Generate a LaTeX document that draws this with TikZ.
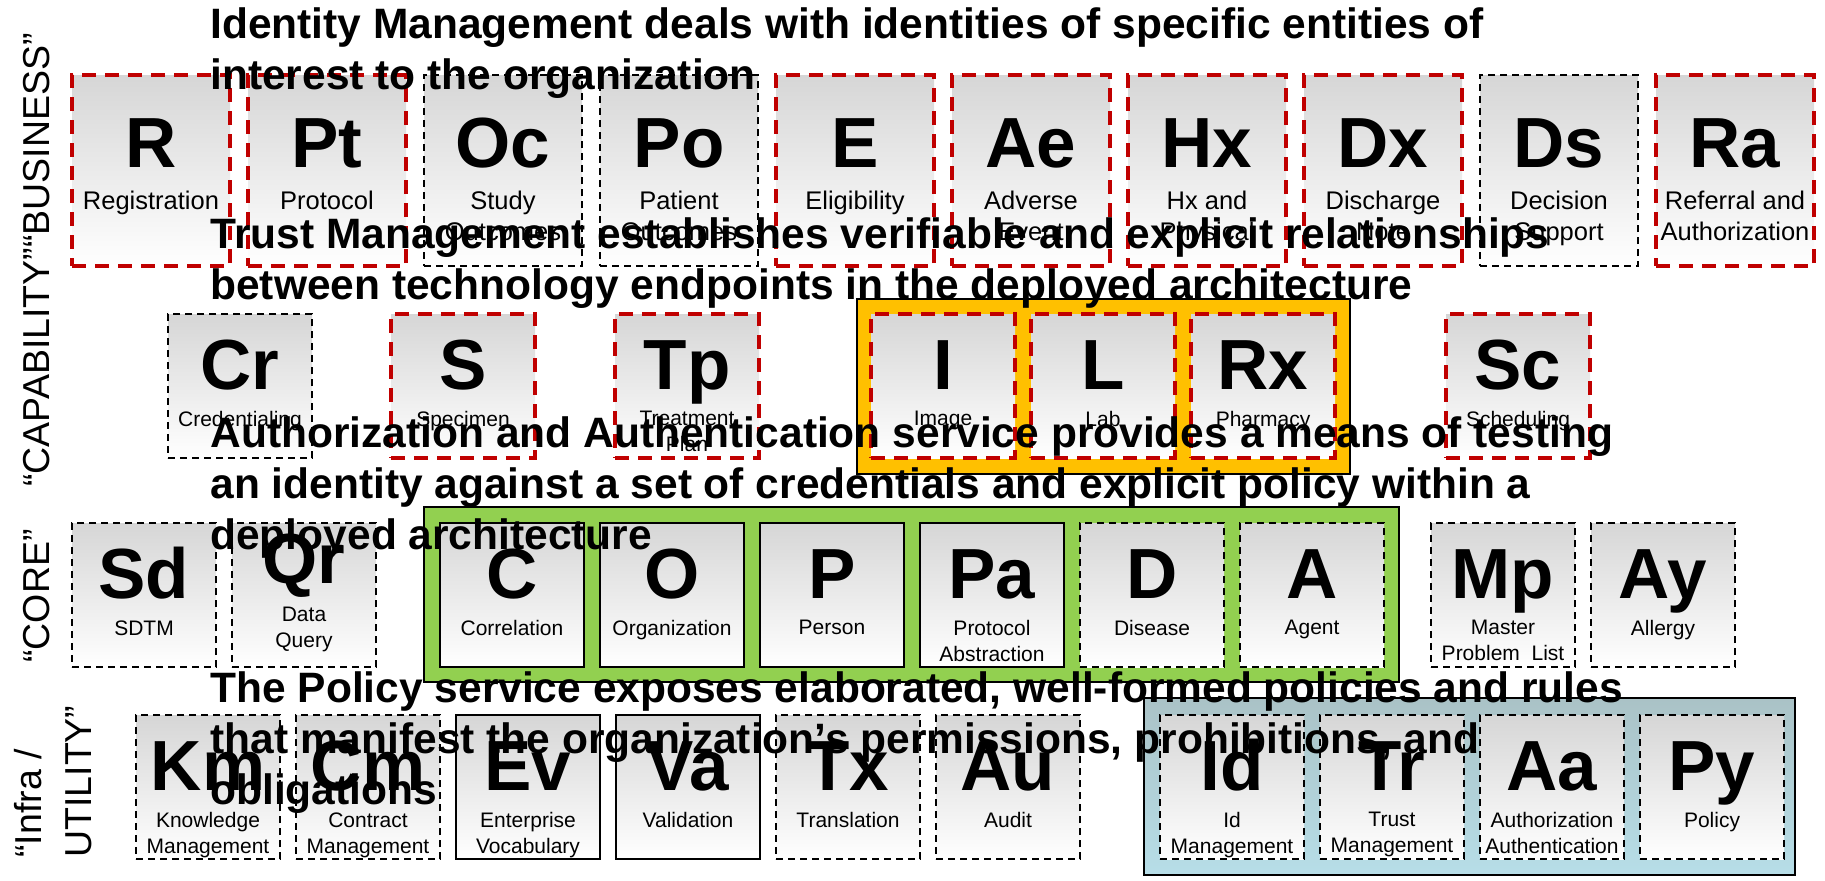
\documentclass[tikz,border=0pt]{standalone}
\usepackage{fontspec}
\setmainfont{Liberation Sans}
\definecolor{tilered}{RGB}{192,0,0}
\definecolor{tilegray}{RGB}{214,214,214}
\definecolor{panelorange}{RGB}{255,192,0}
\definecolor{panelgreen}{RGB}{146,208,80}
\definecolor{panelbluetop}{RGB}{170,194,198}
\definecolor{panelbluebot}{RGB}{183,222,232}
\begin{document}
\begin{tikzpicture}[x=0.5pt,y=-0.5pt,
    tile/.style={rectangle,anchor=north west,inner sep=0pt,outer sep=0pt,top color=tilegray,bottom color=white},
    tallbox/.style={tile,minimum width=79pt,minimum height=95.5pt},
    sqbox/.style={tile,minimum width=72pt,minimum height=72pt},
    reddash/.style={draw=tilered,line width=2pt,dash pattern=on 7pt off 4.5pt},
    blkdash/.style={draw=black,line width=1pt,dash pattern=on 3.5pt off 2.5pt},
    blksolid/.style={draw=black,line width=1.2pt},
    sym/.style={anchor=base,inner sep=0pt,font=\fontsize{35.5}{40}\selectfont\bfseries},
    symtop/.style={sym,yshift=-46pt},
    symlow/.style={sym,yshift=-37.5pt},
    toplab/.style={anchor=north,inner sep=0pt,align=center,yshift=-57.8pt,font=\fontsize{12.75}{15.5}\selectfont},
    lab/.style={anchor=north,inner sep=0pt,align=center,yshift=-48.5pt,font=\fontsize{10.5}{13}\selectfont},
    panel/.style={draw=black,line width=1.2pt},
    layer/.style={rotate=90,inner sep=0pt,font=\fontsize{18.75}{25}\selectfont},
    note/.style={anchor=north west,inner sep=0pt,align=left,font=\fontsize{21.25}{25.5}\selectfont\bfseries}]
    \useasboundingbox (0,0) rectangle (1825,880);

    % business row
    \node[tallbox,reddash] (R) at (72,75) {};
    \node[symtop] at (R.north) {R};
    \node[toplab] at (R.north) {Registration};
    \node[tallbox,reddash] (Pt) at (248,75) {};
    \node[symtop] at (Pt.north) {Pt};
    \node[toplab] at (Pt.north) {Protocol};
    \node[tallbox,blkdash] (Oc) at (424,75) {};
    \node[symtop] at (Oc.north) {Oc};
    \node[toplab] at (Oc.north) {Study\\Outcomes};
    \node[tallbox,blkdash] (Po) at (600,75) {};
    \node[symtop] at (Po.north) {Po};
    \node[toplab] at (Po.north) {Patient\\Outcomes};
    \node[tallbox,reddash] (E) at (776,75) {};
    \node[symtop] at (E.north) {E};
    \node[toplab] at (E.north) {Eligibility};
    \node[tallbox,reddash] (Ae) at (952,75) {};
    \node[symtop] at (Ae.north) {Ae};
    \node[toplab] at (Ae.north) {Adverse\\Event};
    \node[tallbox,reddash] (Hx) at (1128,75) {};
    \node[symtop] at (Hx.north) {Hx};
    \node[toplab] at (Hx.north) {Hx and\\Physical};
    \node[tallbox,reddash] (Dx) at (1304,75) {};
    \node[symtop] at (Dx.north) {Dx};
    \node[toplab] at (Dx.north) {Discharge\\Note};
    \node[tallbox,blkdash] (Ds) at (1480,75) {};
    \node[symtop] at (Ds.north) {Ds};
    \node[toplab] at (Ds.north) {Decision\\Support};
    \node[tallbox,reddash] (Ra) at (1656,75) {};
    \node[symtop] at (Ra.north) {Ra};
    \node[toplab] at (Ra.north) {Referral and\\Authorization};

    % capability row
    \draw[panel,fill=panelorange] (857,299) rectangle (1350,474);
    \node[sqbox,blkdash] (Cr) at (168,314) {};
    \node[symlow] at (Cr.north) {Cr};
    \node[lab] at (Cr.north) {Credentialing};
    \node[sqbox,reddash] (S) at (391,314) {};
    \node[symlow] at (S.north) {S};
    \node[lab] at (S.north) {Specimen};
    \node[sqbox,reddash] (Tp) at (615,314) {};
    \node[symlow] at (Tp.north) {Tp};
    \node[lab] at (Tp.north) {Treatment\\Plan};
    \node[sqbox,reddash] (I) at (871,314) {};
    \node[symlow] at (I.north) {I};
    \node[lab] at (I.north) {Image};
    \node[sqbox,reddash] (L) at (1031,314) {};
    \node[symlow] at (L.north) {L};
    \node[lab] at (L.north) {Lab};
    \node[sqbox,reddash] (Rx) at (1191,314) {};
    \node[symlow] at (Rx.north) {Rx};
    \node[lab] at (Rx.north) {Pharmacy};
    \node[sqbox,reddash] (Sc) at (1446,314) {};
    \node[symlow] at (Sc.north) {Sc};
    \node[lab] at (Sc.north) {Scheduling};

    % core row
    \draw[panel,fill=panelgreen] (424,507) rectangle (1399,682);
    \node[sqbox,blkdash] (Sd) at (72,523) {};
    \node[symlow] at (Sd.north) {Sd};
    \node[lab] at (Sd.north) {SDTM};
    \node[sqbox,blkdash] (Qr) at (232,523) {};
    \node[sym,yshift=-30pt] at (Qr.north) {Qr};
    \node[lab,yshift=6.5pt] at (Qr.north) {Data\\Query};
    \node[sqbox,blksolid] (C) at (440,523) {};
    \node[symlow] at (C.north) {C};
    \node[lab] at (C.north) {Correlation};
    \node[sqbox,blksolid] (O) at (600,523) {};
    \node[symlow] at (O.north) {O};
    \node[lab] at (O.north) {Organization};
    \node[sqbox,blksolid] (P) at (760,523) {};
    \node[symlow] at (P.north) {P};
    \node[lab] at (P.north) {Person};
    \node[sqbox,blksolid] (Pa) at (920,523) {};
    \node[symlow] at (Pa.north) {Pa};
    \node[lab] at (Pa.north) {Protocol\\Abstraction};
    \node[sqbox,blkdash] (D) at (1080,523) {};
    \node[symlow] at (D.north) {D};
    \node[lab] at (D.north) {Disease};
    \node[sqbox,blkdash] (A) at (1240,523) {};
    \node[symlow] at (A.north) {A};
    \node[lab] at (A.north) {Agent};
    \node[sqbox,blkdash] (Mp) at (1431,523) {};
    \node[symlow] at (Mp.north) {Mp};
    \node[lab] at (Mp.north) {Master\\Problem\ \ List};
    \node[sqbox,blkdash] (Ay) at (1591,523) {};
    \node[symlow] at (Ay.north) {Ay};
    \node[lab] at (Ay.north) {Allergy};

    % utility row
    \draw[panel,top color=panelbluetop,bottom color=panelbluebot] (1144,698) rectangle (1795,875);
    \node[sqbox,blkdash] (Km) at (136,715) {};
    \node[symlow] at (Km.north) {Km};
    \node[lab] at (Km.north) {Knowledge\\Management};
    \node[sqbox,blkdash] (Cm) at (296,715) {};
    \node[symlow] at (Cm.north) {Cm};
    \node[lab] at (Cm.north) {Contract\\Management};
    \node[sqbox,blksolid] (Ev) at (456,715) {};
    \node[symlow] at (Ev.north) {Ev};
    \node[lab] at (Ev.north) {Enterprise\\Vocabulary};
    \node[sqbox,blksolid] (Va) at (616,715) {};
    \node[symlow] at (Va.north) {Va};
    \node[lab] at (Va.north) {Validation};
    \node[sqbox,blkdash] (Tx) at (776,715) {};
    \node[symlow] at (Tx.north) {Tx};
    \node[lab] at (Tx.north) {Translation};
    \node[sqbox,blkdash] (Au) at (936,715) {};
    \node[symlow] at (Au.north) {Au};
    \node[lab] at (Au.north) {Audit};
    \node[sqbox,blkdash] (Id) at (1160,715) {};
    \node[symlow] at (Id.north) {Id};
    \node[lab] at (Id.north) {Id\\Management};
    \node[sqbox,blkdash] (Tr) at (1320,715) {};
    \node[symlow] at (Tr.north) {Tr};
    \node[lab] at (Tr.north) {Trust\\Management};
    \node[sqbox,blkdash] (Aa) at (1480,715) {};
    \node[symlow] at (Aa.north) {Aa};
    \node[lab] at (Aa.north) {Authorization\\Authentication};
    \node[sqbox,blkdash] (Py) at (1640,715) {};
    \node[symlow] at (Py.north) {Py};
    \node[lab] at (Py.north) {Policy};

    % layer names
    \node[layer,anchor=base] (capab) at (49,260) {“CAPABILITY”“BUSINESS”};
    \node[layer,anchor=base] (core) at (49,596) {“CORE”};
    \node[layer,anchor=north west,align=left] (infra) at (13.5,858) {“Infra /\\UTILITY”};

    % service notes
    \node[note] (idnote) at (210,6.8) {Identity Management deals with identities of specific entities of\\interest to the organization};
    \node[note] (trustnote) at (210,216.8) {Trust Management establishes verifiable and explicit relationships\\between technology endpoints in the deployed architecture};
    \node[note] (authnote) at (210,415.8) {Authorization and Authentication service provides a means of testing\\an identity against a set of credentials and explicit policy within a\\deployed architecture};
    \node[note] (policynote) at (210,670.8) {The Policy service exposes elaborated, well-formed policies and rules\\that manifest the organization's permissions, prohibitions, and\\obligations};
\end{tikzpicture}
\end{document}
